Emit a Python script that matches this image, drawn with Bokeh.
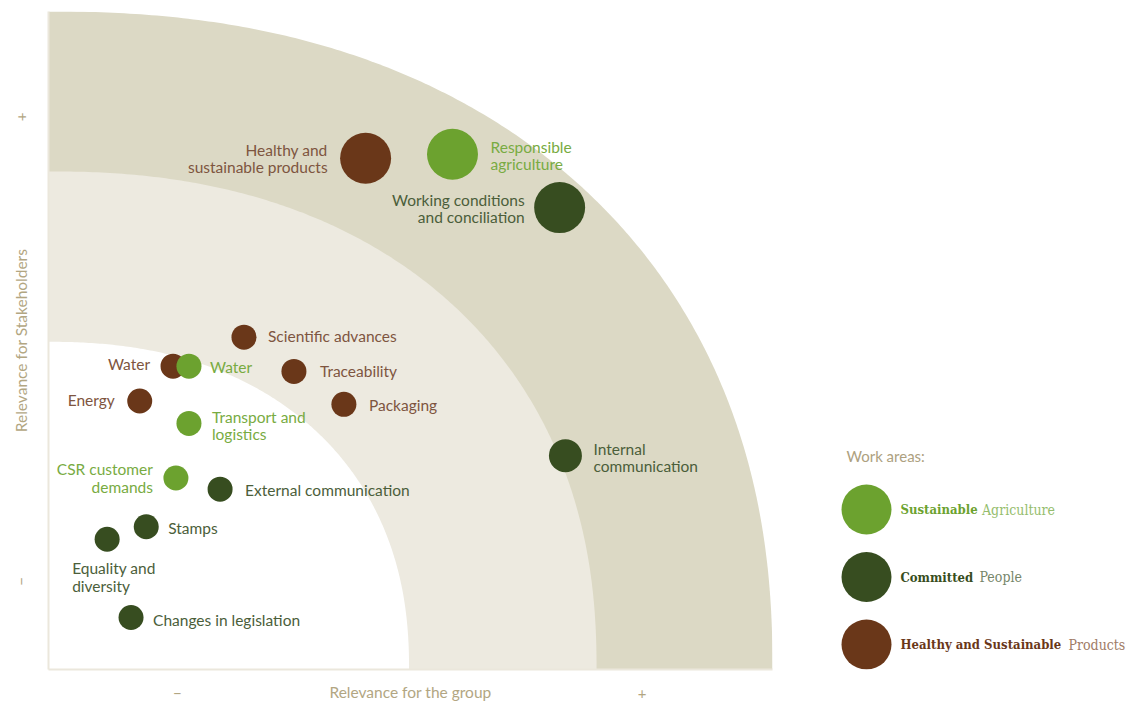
import numpy as np
from bokeh.plotting import figure
from bokeh.models import ColumnDataSource, Range1d, FixedTicker
from bokeh.layouts import row
from bokeh.core.properties import value
from bokeh.embed import file_html
from bokeh.resources import INLINE

# ---------------- data ----------------
topics = [
    "Healthy and\nsustainable products", "Responsible\nagriculture",
    "Working conditions\nand conciliation", "Internal\ncommunication",
    "Scientific advances", "Water", "Water", "Traceability", "Energy",
    "Packaging", "Transport and\nlogistics", "CSR customer\ndemands",
    "External communication", "Stamps", "Equality and\ndiversity",
    "Changes in legislation",
]
work_area = [
    "Products", "Agriculture", "People", "People", "Products", "Products",
    "Agriculture", "Products", "Products", "Products", "Agriculture",
    "Agriculture", "People", "People", "People", "People",
]
group_relevance = [4.38, 5.58, 7.06, 7.14, 2.70, 1.72, 1.94, 3.39, 1.26,
                   4.08, 1.94, 1.76, 2.37, 1.35, 0.81, 1.14]
stakeholder_relevance = [7.77, 7.83, 7.02, 3.25, 5.05, 4.61, 4.61, 4.53, 4.08,
                         4.03, 3.74, 2.91, 2.74, 2.17, 1.98, 0.79]
priority = [3, 3, 3, 2, 1, 1, 1, 1, 1, 1, 1, 1, 1, 1, 1, 1]

band_limits = [10.0, 7.57, 4.98]          # materiality zones (outer -> inner)

x_tick_values = [1.78, 8.20]
y_tick_values = [1.34, 8.40]
tick_labels = ["\u2212", "+"]

legend_areas = ["Agriculture", "People", "Products"]
legend_bold = ["Sustainable", "Committed", "Healthy and Sustainable"]
legend_rest = ["Agriculture", "People", "Products"]

# ---------------- styles / layout ----------------
circle_color = {"Agriculture": "#6ca22f", "People": "#374d20", "Products": "#6a3719"}
text_color = {"Agriculture": "#78ab42", "People": "#4b5e3a", "Products": "#7e5540"}
rest_color = {"Agriculture": "#95bd6d", "People": "#76866a", "Products": "#a07b66"}
band_colors = ["#dcd9c5", "#edeae0", "#ffffff"]
diam = {1: 25, 2: 33, 3: 51}

# label placement relative to marker (screen px)
label_dx = [-38, 38, -35, 28, 24, -23, 21, 26, -25, 25, 23, -23, 25, 22, -35, 22]
label_dy = [0, 1, 1, 2, -1, -2, 1, 0, -1, 1, 2, 0, 1, 1, 38, 2]
label_align = ["right", "left", "right", "left", "left", "right", "left", "left",
               "right", "left", "left", "right", "left", "left", "left", "left"]

AXIS_COL = "#b2a682"
FONT = "Lato"
TOP, BOTTOM = 11, 35

p = figure(width=800, height=704, x_range=Range1d(0, 10), y_range=Range1d(0, 10),
           output_backend="svg", toolbar_location=None,
           min_border_left=48, min_border_right=28, min_border_top=TOP, min_border_bottom=BOTTOM,
           outline_line_color=None, background_fill_color="white", border_fill_color="white")
p.grid.visible = False

# materiality zones
n = 2.25
t = np.linspace(0, np.pi / 2, 240)
for r, col in zip(band_limits, band_colors):
    xs = np.concatenate([[0.0], r * np.cos(t) ** (2 / n), [0.0]])
    ys = np.concatenate([[0.0], r * np.sin(t) ** (2 / n), [0.0]])
    xs[-2] = 0.0
    p.patch(xs, ys, fill_color=col, line_color=None)

src = ColumnDataSource(dict(
    x=group_relevance, y=stakeholder_relevance, label=topics,
    size=[diam[k] for k in priority],
    color=[circle_color[a] for a in work_area],
    tcolor=[text_color[a] for a in work_area],
    dx=label_dx, dy=label_dy, align=label_align,
))
p.scatter("x", "y", size="size", fill_color="color", line_color=None, source=src)
p.text("x", "y", text="label", x_offset="dx", y_offset="dy", text_align="align",
       text_baseline="middle", text_color="tcolor", text_font=value(FONT),
       text_font_size="15.5px", text_line_height=0.97, source=src)

# axes
p.xaxis.ticker = FixedTicker(ticks=x_tick_values)
p.yaxis.ticker = FixedTicker(ticks=y_tick_values)
p.xaxis.major_label_overrides = {v: s for v, s in zip(x_tick_values, tick_labels)}
p.yaxis.major_label_overrides = {v: s for v, s in zip(y_tick_values, tick_labels)}
p.xaxis.axis_label = "Relevance for the group"
p.yaxis.axis_label = "Relevance for Stakeholders"
p.yaxis.major_label_orientation = "vertical"
for ax in (p.xaxis[0], p.yaxis[0]):
    ax.axis_line_color = "#ebe7dc"
    ax.axis_line_width = 2
    ax.major_tick_line_color = None
    ax.minor_tick_line_color = None
    ax.major_tick_in = 0
    ax.major_tick_out = 0
    ax.minor_tick_in = 0
    ax.minor_tick_out = 0
    ax.major_label_text_color = AXIS_COL
    ax.major_label_text_font = FONT
    ax.major_label_text_font_size = "15px"
    ax.axis_label_text_color = AXIS_COL
    ax.axis_label_text_font = FONT
    ax.axis_label_text_font_size = "15.5px"
    ax.axis_label_text_font_style = "normal"
p.xaxis.major_label_standoff = 18
p.xaxis.axis_label_standoff = -19
p.yaxis.major_label_standoff = 21
p.yaxis.axis_label_standoff = -16

# ---------------- legend panel ----------------
lg = figure(width=336, height=704, x_range=Range1d(0, 336), y_range=Range1d(704 - BOTTOM, TOP),
            output_backend="svg", toolbar_location=None,
            min_border_left=0, min_border_right=0, min_border_top=TOP, min_border_bottom=BOTTOM,
            outline_line_color=None, x_axis_location=None, y_axis_location=None,
            background_fill_color="white", border_fill_color="white")
lg.grid.visible = False

lg.text(x=[46], y=[455], text=["Work areas:"], text_baseline="middle",
        text_color="#ada17f", text_font=value(FONT), text_font_size="15px")

ly = [509 + 67.5 * i for i in range(len(legend_areas))]
rest_x = [181.5, 179, 268]
lsrc = ColumnDataSource(dict(
    cx=[66] * 3, y=ly, tx=[100] * 3, rx=rest_x,
    bold=legend_bold, rest=legend_rest,
    color=[circle_color[a] for a in legend_areas],
    rcolor=[rest_color[a] for a in legend_areas],
))
lg.scatter("cx", "y", size=50, fill_color="color", line_color=None, source=lsrc)
lg.text("tx", "y", text="bold", text_baseline="middle", text_color="color",
        text_font=value("DejaVu Serif Condensed"), text_font_style="bold",
        text_font_size="13px", source=lsrc)
lg.text("rx", "y", text="rest", text_baseline="middle", text_color="rcolor",
        text_font=value("DejaVu Serif Condensed"), text_font_size="14px", source=lsrc)

layout = row(p, lg)
open("out.html", "w").write(file_html(layout, INLINE))
